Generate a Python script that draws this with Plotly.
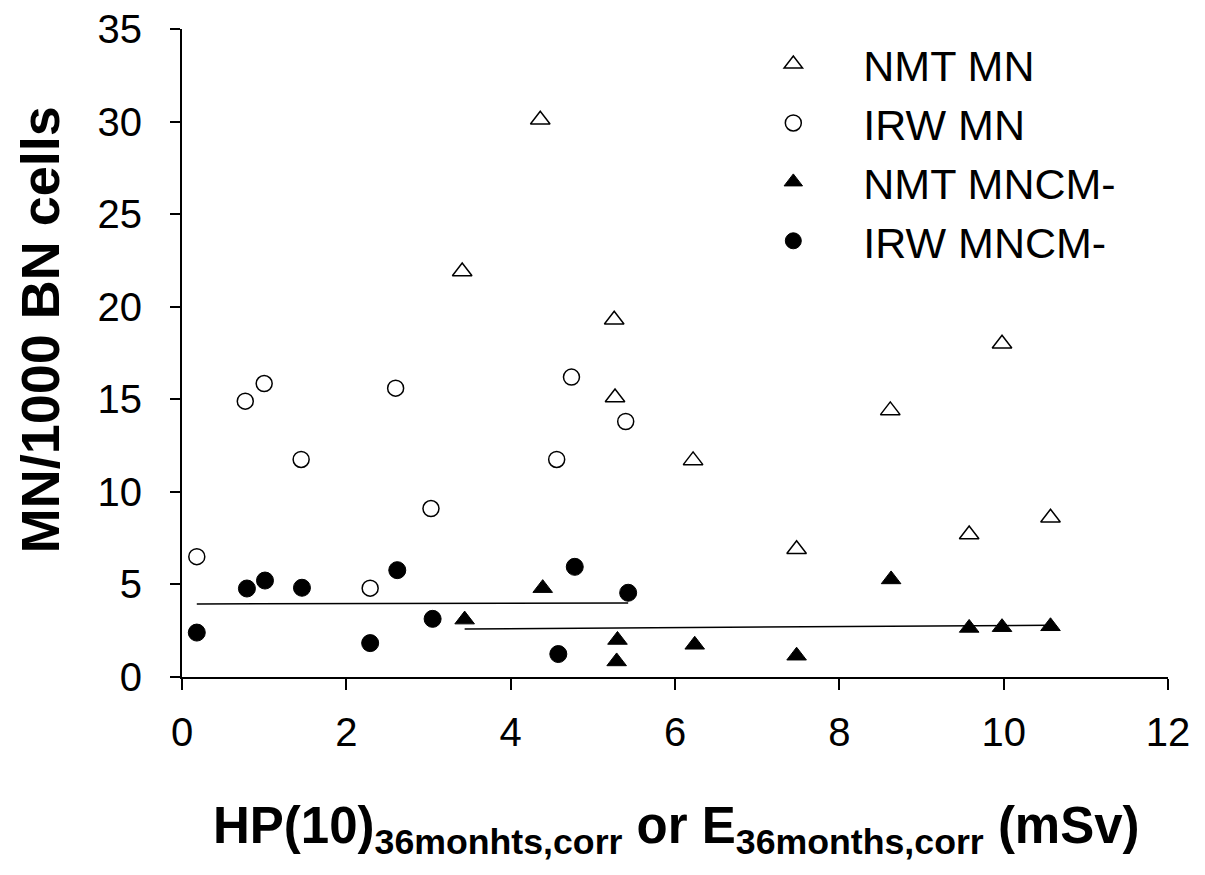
import numpy as np
import plotly.graph_objects as go

# ---- data ----
nmt_x = [3.41, 4.36, 5.26, 5.27, 6.22, 7.48, 8.62, 9.58, 9.98, 10.57]
nmt_mn = [21.9, 30.1, 19.3, 15.1, 11.7, 6.9, 14.4, 7.7, 18.0, 8.6]
nmt_x_cm = [3.44, 4.39, 5.29, 5.30, 6.24, 7.48, 8.63, 9.58, 9.98, 10.57]
nmt_mncm = [3.1, 4.8, 0.84, 2.0, 1.74, 1.15, 5.27, 2.65, 2.69, 2.74]

irw_x = [0.18, 0.77, 1.00, 1.45, 2.29, 2.60, 3.03, 4.56, 4.74, 5.40]
irw_mn = [6.5, 14.9, 15.85, 11.75, 4.8, 15.6, 9.1, 11.75, 16.2, 13.8]
irw_x_cm = [0.18, 0.79, 1.01, 1.46, 2.29, 2.62, 3.05, 4.58, 4.78, 5.43]
irw_mncm = [2.4, 4.78, 5.21, 4.82, 1.83, 5.77, 3.14, 1.24, 5.95, 4.55]

legend_names = ["NMT MN", "IRW MN", "NMT MNCM-", "IRW MNCM-"]
x_ticks = [0, 2, 4, 6, 8, 10, 12]
y_ticks = [0, 5, 10, 15, 20, 25, 30, 35]

FONT = "Liberation Sans, Arial, sans-serif"

fig = go.Figure()

fig.add_trace(go.Scatter(
    x=nmt_x, y=nmt_mn, mode="markers", name=legend_names[0],
    marker=dict(symbol="triangle-up", size=17, color="white",
                line=dict(color="black", width=1.5)),
    cliponaxis=False))
fig.add_trace(go.Scatter(
    x=irw_x, y=irw_mn, mode="markers", name=legend_names[1],
    marker=dict(symbol="circle", size=16, color="white",
                line=dict(color="black", width=1.5)),
    cliponaxis=False))
fig.add_trace(go.Scatter(
    x=nmt_x_cm, y=nmt_mncm, mode="markers", name=legend_names[2],
    marker=dict(symbol="triangle-up", size=17, color="black",
                line=dict(color="black", width=1)),
    cliponaxis=False))
fig.add_trace(go.Scatter(
    x=irw_x_cm, y=irw_mncm, mode="markers", name=legend_names[3],
    marker=dict(symbol="circle", size=17, color="black",
                line=dict(color="black", width=1)),
    cliponaxis=False))

# linear regression lines for the MNCM- series
for xs, ys in [(irw_x_cm, irw_mncm), (nmt_x_cm, nmt_mncm)]:
    b, a = np.polyfit(xs, ys, 1)
    lx = [min(xs), max(xs)]
    fig.add_trace(go.Scatter(
        x=lx, y=[a + b * v for v in lx], mode="lines",
        line=dict(color="black", width=1.5), showlegend=False,
        hoverinfo="skip"))

fig.update_layout(
    width=1205, height=875,
    margin=dict(l=174, r=45, t=21, b=206, autoexpand=False),
    paper_bgcolor="white", plot_bgcolor="white",
    font=dict(family=FONT, color="black"),
    showlegend=True,
    legend=dict(
        x=0.549, y=0.999, xanchor="left", yanchor="top",
        font=dict(family=FONT, size=43, color="black"),
        itemwidth=130, bgcolor="rgba(0,0,0,0)", tracegroupgap=0,
    ),
    xaxis=dict(
        range=[0, 12], tickvals=x_ticks, ticktext=[str(v) for v in x_ticks],
        showgrid=False, zeroline=False, showline=True, automargin=False,
        linecolor="black", linewidth=2, ticks="outside", ticklen=11,
        tickwidth=2, tickcolor="black", ticklabelstandoff=8,
        ticklabeloverflow="allow",
        tickfont=dict(family=FONT, size=40, color="black"),
    ),
    yaxis=dict(
        range=[0, 35], tickvals=y_ticks, ticktext=[str(v) for v in y_ticks],
        showgrid=False, zeroline=False, showline=True, automargin=False,
        linecolor="black", linewidth=2, ticks="outside", ticklen=10,
        tickwidth=2, tickcolor="black", ticklabelstandoff=20,
        ticklabeloverflow="allow",
        tickfont=dict(family=FONT, size=40, color="black"),
    ),
    annotations=[
        dict(text="<b>HP(10)<sub>36monhts,corr</sub> or E<sub>36months,corr</sub> (mSv)</b>",
             xref="paper", yref="paper", x=0.502, y=-0.182,
             xanchor="center", yanchor="top", showarrow=False,
             font=dict(family=FONT, size=51, color="black")),
        dict(text="<b>MN/1000 BN cells</b>",
             xref="paper", yref="paper", x=-0.144, y=0.535,
             xanchor="center", yanchor="middle", textangle=-90,
             showarrow=False,
             font=dict(family=FONT, size=54, color="black")),
    ],
)

fig.write_html("out.html")
